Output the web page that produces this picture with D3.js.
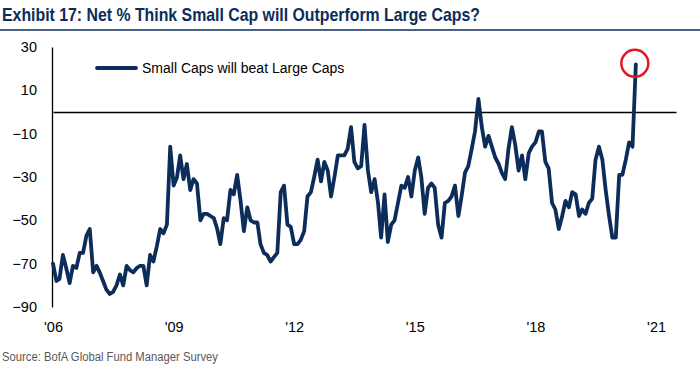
<!DOCTYPE html>
<html>
<head>
<meta charset="utf-8">
<script src="https://cdn.jsdelivr.net/npm/d3@7"></script>
<style>
  body { margin: 0; background: #fff; }
  svg { display: block; }
</style>
</head>
<body>
<div id="chart"></div>
<script>
// net % of fund managers who think small caps will outperform large caps, monthly from Jan 2006
const smallCapNet = [
  -70, -78, -77, -66, -72, -79, -71, -72, -65, -65, -57, -54,
  -74, -71, -74, -78, -82, -84, -83, -80, -75, -80, -71, -73,
  -74, -72, -71, -71, -80, -66, -69, -62, -54, -56, -52, -16,
  -34, -30, -20, -31, -24, -36, -31, -33, -50, -47, -47, -48,
  -49, -54, -61, -49, -50, -36, -38, -29, -41, -55, -44, -50,
  -51, -51, -61, -65, -66, -69, -67, -65, -37, -34, -52, -53,
  -61, -61, -59, -55, -39, -37, -30, -22, -32, -23, -27, -39,
  -30, -20, -20, -20, -17, -7, -23, -26, -25, -6, -27, -37,
  -31, -42, -58, -38, -60, -52, -50, -42, -34, -35, -30, -39,
  -27, -21, -30, -47, -35, -33, -35, -52, -58, -42, -41, -39,
  -34, -48, -39, -28, -25, -17, -9, 6, -7, -16, -11, -16,
  -21, -24, -28, -31, -17, -7, -15, -27, -20, -31, -19, -16,
  -14, -9, -9, -23, -26, -42, -45, -54, -48, -41, -44, -37,
  -38, -48, -45, -47, -42, -40, -22, -16, -22, -36, -48, -58,
  -58, -29, -29, -22, -14, -16, 22
];
const months = smallCapNet.map((d, i) => new Date(2006, i, 1));

const yTicks = [30, 10, -10, -30, -50, -70, -90];
const xTickYears = [2006, 2009, 2012, 2015, 2018, 2021];
const xTickLabels = ["'06", "'09", "'12", "'15", "'18", "'21"];

const seriesName = "Small Caps will beat Large Caps";
const title = "Exhibit 17: Net % Think Small Cap will Outperform Large Caps?";
const source = "Source: BofA Global Fund Manager Survey";

const navy = "#0c2c5a";
const width = 700, height = 375;

const svg = d3.select("#chart").append("svg")
    .attr("width", width)
    .attr("height", height);

// title + rule
svg.append("text")
    .attr("x", 2)
    .attr("y", 21)
    .attr("textLength", 478)
    .attr("lengthAdjust", "spacingAndGlyphs")
    .style("font-family", "'Liberation Sans Narrow', 'Arial Narrow', 'Liberation Sans', Arial, sans-serif")
    .style("font-weight", "bold")
    .style("font-size", "19px")
    .style("fill", navy)
    .text(title);

svg.append("line")
    .attr("x1", 0).attr("x2", width)
    .attr("y1", 30).attr("y2", 30)
    .attr("stroke", navy)
    .attr("stroke-width", 1.5);

// scales
const x = d3.scaleTime()
    .domain([new Date(2006, 0, 1), new Date(2021, 6, 1)])
    .range([53, 676]);

const y = d3.scaleLinear()
    .domain([-90, 30])
    .range([307, 47]);

// Y Axis
const yAxis = svg.append("g")
    .attr("transform", `translate(${x.range()[0] - 1},0)`)
    .call(d3.axisLeft(y).tickValues(yTicks).tickSize(0).tickSizeOuter(0).tickPadding(15));
yAxis.select(".domain").attr("stroke", "#000").attr("stroke-width", 1.3);
yAxis.selectAll("text")
    .style("font-family", "'Liberation Sans', Arial, sans-serif")
    .style("font-size", "14.5px")
    .style("fill", "#000");

// X Axis sits on the zero line, labels pushed below the plot
const xTickDates = xTickYears.map(yr => new Date(yr, 0, 1));
const xAxis = svg.append("g")
    .attr("transform", `translate(0,${y(0)})`)
    .call(d3.axisBottom(x)
        .tickValues(xTickDates)
        .tickFormat((d, i) => xTickLabels[i])
        .tickSize(0)
        .tickSizeOuter(0)
        .tickPadding(y(-90) - y(0) + 15));
xAxis.select(".domain").attr("stroke", "#000").attr("stroke-width", 1.3);
xAxis.selectAll("text")
    .style("font-family", "'Liberation Sans', Arial, sans-serif")
    .style("font-size", "14.5px")
    .style("fill", "#000");

// series line
const line = d3.line()
    .x((d, i) => x(months[i]))
    .y(d => y(d));

svg.append("path")
    .datum(smallCapNet)
    .attr("fill", "none")
    .attr("stroke", navy)
    .attr("stroke-width", 3.8)
    .attr("stroke-linejoin", "round")
    .attr("stroke-linecap", "round")
    .attr("d", line);

// red circle on the latest reading
const last = smallCapNet.length - 1;
svg.append("circle")
    .attr("cx", x(months[last]) - 1)
    .attr("cy", y(smallCapNet[last]) - 1)
    .attr("r", 13.5)
    .attr("fill", "none")
    .attr("stroke", "#e3161d")
    .attr("stroke-width", 2.5);

// legend
const legend = svg.append("g").attr("transform", "translate(97,68)");
legend.append("line")
    .attr("x1", 0).attr("x2", 39)
    .attr("y1", 0).attr("y2", 0)
    .attr("stroke", navy)
    .attr("stroke-width", 3.8)
    .attr("stroke-linecap", "round");
legend.append("text")
    .attr("x", 45)
    .attr("y", 5)
    .style("font-family", "'Liberation Sans', Arial, sans-serif")
    .style("font-size", "14px")
    .style("fill", "#000")
    .text(seriesName);

// source note
svg.append("text")
    .attr("x", 2)
    .attr("y", 361)
    .attr("textLength", 216)
    .attr("lengthAdjust", "spacingAndGlyphs")
    .style("font-family", "'Liberation Sans Narrow', 'Arial Narrow', 'Liberation Sans', Arial, sans-serif")
    .style("font-size", "12.5px")
    .style("fill", "#595959")
    .text(source);
</script>
</body>
</html>
